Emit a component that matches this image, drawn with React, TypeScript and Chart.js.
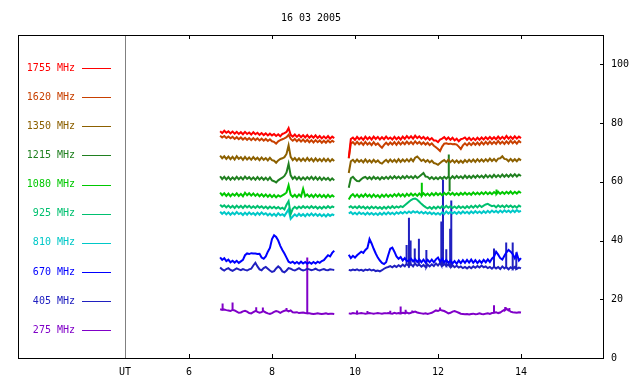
import React, { useEffect, useRef } from "react";
import { Chart, registerables } from "chart.js";
Chart.register(...registerables);

const TITLE = "16 03 2005";
const SEG1_START = 6.75;
const SEG2_START = 9.85;
const STEP = 0.05;
const UT_HOUR = 4.46;
const X_TICKS = [UT_HOUR, 6, 8, 10, 12, 14];
const Y_TICKS = [0, 20, 40, 60, 80, 100];
const FREQS = ["1755 MHz", "1620 MHz", "1350 MHz", "1215 MHz", "1080 MHz", "925 MHz", "810 MHz", "670 MHz", "405 MHz", "275 MHz"];
const COLORS = ["#ff0000", "#c84000", "#8c6000", "#208020", "#00c800", "#00c070", "#00c8c8", "#0000ff", "#2020c0", "#8000c8"];
const FONT = "'DejaVu Sans Mono', monospace";

// 1755 MHz
const r1755a = [
  77.2, 76.6, 77.4, 76.7, 77.2, 76.5, 77.1, 76.4, 77.0, 76.3,
  76.9, 76.2, 77.0, 76.3, 76.8, 76.1, 76.9, 76.2, 76.7, 76.0,
  76.6, 75.9, 76.5, 75.8, 76.4, 75.8, 76.3, 75.6, 76.2, 75.5,
  76.3, 76.6, 77.0, 78.3, 76.0, 75.4, 76.1, 75.3, 76.0, 75.2,
  75.9, 75.1, 75.9, 75.0, 75.7, 75.0, 75.8, 74.9, 75.6, 74.8,
  75.5, 74.8, 75.6, 74.7, 75.4, 74.9];
const r1755b = [
  68.2, 74.6, 75.1, 74.3, 75.3, 74.5, 75.1, 74.3, 75.4, 74.5,
  75.2, 74.4, 75.4, 74.6, 75.3, 74.4, 75.2, 74.5, 75.4, 74.6,
  75.1, 74.4, 75.3, 74.5, 75.2, 74.4, 75.4, 74.6, 75.6, 74.8,
  75.5, 74.7, 75.7, 74.9, 75.5, 74.7, 75.3, 74.5, 75.1, 74.3,
  74.9, 74.1, 74.1, 73.5, 74.4, 74.7, 75.2, 74.4, 75.1, 74.3,
  75.0, 74.1, 74.7, 73.8, 74.5, 74.7, 75.1, 74.3, 75.0, 74.2,
  74.9, 74.2, 75.0, 74.3, 75.1, 74.4, 75.2, 74.5, 75.3, 74.5,
  75.2, 74.5, 75.4, 74.6, 75.3, 74.6, 75.6, 74.7, 75.4, 74.6,
  75.5, 74.7, 75.4, 74.9];
const r1755spikes: number[][] = [];

// 1620 MHz
const r1620a = [
  75.7, 75.1, 75.6, 74.9, 75.4, 74.8, 75.3, 74.6, 75.2, 74.5,
  75.1, 74.4, 75.0, 74.3, 74.9, 74.2, 74.9, 74.2, 74.8, 74.1,
  74.7, 74.0, 74.6, 73.9, 74.5, 73.8, 73.6, 73.0, 73.8, 74.2,
  74.5, 74.8, 75.2, 76.0, 74.6, 74.0, 74.6, 73.8, 74.5, 73.7,
  74.4, 73.6, 74.3, 73.5, 74.2, 73.4, 74.2, 73.5, 74.1, 73.3,
  74.0, 73.3, 74.1, 73.4, 74.0, 73.5];
const r1620b = [
  68.0, 73.0, 73.5, 72.7, 73.6, 72.8, 73.4, 72.6, 73.6, 72.7,
  73.3, 72.5, 73.5, 72.6, 73.1, 72.3, 71.6, 72.6, 73.3, 72.6,
  73.4, 72.7, 73.5, 72.6, 73.6, 72.7, 73.5, 72.8, 73.7, 72.9,
  73.6, 72.8, 73.8, 73.0, 73.6, 72.8, 73.4, 72.7, 73.3, 72.5,
  73.1, 72.3, 71.8, 71.2, 70.5, 72.0, 73.0, 73.1, 72.9, 73.0,
  72.8, 72.9, 72.7, 72.0, 71.2, 72.4, 73.1, 72.4, 73.2, 72.5,
  73.3, 72.6, 73.4, 72.6, 73.5, 72.7, 73.6, 72.8, 73.7, 72.9,
  73.6, 72.9, 73.9, 73.0, 73.7, 72.9, 73.8, 73.0, 74.0, 73.1,
  73.8, 73.0, 73.9, 73.3];
const r1620spikes: number[][] = [];

// 1350 MHz
const r1350a = [
  68.9, 68.0, 68.7, 67.8, 68.6, 67.7, 68.5, 67.6, 68.7, 67.8,
  68.4, 67.5, 68.5, 67.6, 68.3, 67.5, 68.4, 67.6, 68.2, 67.4,
  68.3, 67.5, 68.1, 67.3, 68.2, 67.4, 67.2, 66.5, 67.3, 67.8,
  68.0, 68.4, 69.5, 72.4, 68.5, 67.4, 68.1, 67.2, 68.0, 67.1,
  67.9, 67.1, 68.1, 67.2, 67.9, 67.0, 68.0, 67.1, 67.8, 67.0,
  67.9, 67.0, 67.8, 66.9, 67.7, 67.1];
const r1350b = [
  63.0, 67.0, 67.5, 66.7, 67.6, 66.8, 67.4, 66.6, 67.6, 66.7,
  67.4, 66.6, 67.5, 66.7, 67.3, 66.5, 66.2, 66.9, 67.5, 66.7,
  67.6, 66.8, 67.5, 66.7, 67.7, 66.8, 67.6, 66.9, 67.7, 66.9,
  67.8, 67.0, 68.2, 68.6, 67.9, 67.1, 67.6, 66.8, 67.4, 66.6,
  67.2, 66.4, 66.2, 65.8, 66.4, 67.0, 67.4, 66.7, 67.5, 66.7,
  67.4, 66.6, 67.3, 66.5, 67.2, 66.5, 67.4, 66.7, 67.5, 66.8,
  67.6, 66.8, 67.7, 66.9, 67.6, 66.9, 67.7, 67.0, 67.9, 67.1,
  67.8, 67.0, 67.9, 68.0, 68.7, 67.8, 67.7, 67.0, 67.8, 67.0,
  67.7, 67.0, 67.8, 67.3];
const r1350spikes: number[][] = [];

// 1215 MHz
const r1215a = [
  61.9, 60.9, 61.7, 60.8, 61.6, 60.7, 61.5, 60.8, 61.7, 60.9,
  61.6, 60.8, 61.8, 61.0, 61.6, 60.8, 61.5, 60.7, 61.6, 60.8,
  61.5, 60.7, 61.4, 60.6, 61.5, 60.5, 60.2, 59.8, 60.5, 61.0,
  61.4, 62.0, 63.2, 66.1, 62.2, 61.0, 61.7, 60.8, 61.6, 60.7,
  61.5, 60.8, 61.6, 60.9, 61.7, 60.8, 61.6, 60.7, 61.5, 60.6,
  61.4, 60.7, 61.3, 60.5, 61.2, 60.5];
const r1215b = [
  58.0, 61.2, 61.7, 60.9, 60.3, 60.2, 60.9, 61.4, 61.7, 61.0,
  61.6, 60.9, 61.7, 61.0, 61.5, 60.8, 61.6, 61.0, 61.7, 61.0,
  61.8, 61.1, 61.9, 61.2, 61.8, 61.1, 61.9, 61.2, 62.0, 61.3,
  61.9, 61.2, 62.0, 61.3, 61.8, 62.4, 63.0, 61.8, 61.7, 61.0,
  61.6, 60.9, 61.5, 60.9, 61.6, 61.0, 61.7, 61.1, 61.8, 61.1,
  61.9, 61.2, 62.0, 61.3, 61.9, 61.2, 62.1, 61.3, 62.0, 61.3,
  62.1, 61.4, 62.2, 61.5, 62.1, 61.4, 62.3, 61.5, 62.2, 61.5,
  62.4, 61.6, 62.3, 61.6, 62.5, 61.7, 62.4, 61.7, 62.5, 61.8,
  62.6, 61.8, 62.5, 62.0];
const r1215spikes = [[12.26, 69.3], [12.28, 56.8]];

// 1080 MHz
const r1080a = [
  56.3, 55.4, 56.1, 55.2, 56.0, 55.1, 55.9, 55.3, 56.1, 55.2,
  55.9, 55.1, 56.3, 55.4, 56.1, 55.3, 56.0, 55.2, 55.9, 55.1,
  55.8, 55.0, 55.7, 54.9, 55.6, 54.8, 55.5, 54.7, 55.4, 55.0,
  55.4, 55.8, 56.4, 58.8, 55.6, 54.9, 55.6, 54.8, 55.7, 55.0,
  57.6, 55.1, 55.7, 54.9, 55.6, 54.8, 55.7, 54.9, 55.6, 54.8,
  55.5, 54.7, 55.6, 54.8, 55.4, 54.8];
const r1080b = [
  54.0, 55.2, 55.8, 54.9, 55.7, 54.8, 55.6, 54.9, 55.8, 55.0,
  55.6, 54.8, 55.7, 54.9, 55.5, 54.7, 55.6, 54.9, 55.7, 54.9,
  55.6, 55.0, 55.8, 55.1, 55.9, 55.1, 55.8, 55.0, 55.9, 55.2,
  56.0, 55.3, 55.9, 55.2, 56.0, 55.3, 56.1, 55.4, 56.0, 55.3,
  56.1, 55.4, 56.2, 55.5, 56.1, 55.4, 56.2, 55.6, 56.3, 55.6,
  56.2, 55.5, 56.1, 55.5, 56.2, 55.6, 56.3, 55.6, 56.2, 55.6,
  56.4, 55.7, 56.3, 55.7, 56.4, 55.8, 56.5, 55.8, 56.4, 55.8,
  56.5, 55.9, 56.6, 55.9, 56.5, 55.9, 56.6, 56.0, 56.7, 55.9,
  56.6, 56.0, 56.7, 56.2];
const r1080spikes = [[11.61, 59.7], [13.41, 57.4]];

// 925 MHz
const r925a = [
  52.2, 51.5, 52.0, 51.3, 51.9, 51.2, 51.8, 51.1, 51.9, 51.2,
  51.8, 51.1, 51.9, 51.3, 51.8, 51.1, 51.7, 51.1, 51.8, 51.2,
  51.7, 51.0, 51.6, 50.9, 51.6, 51.0, 51.5, 50.9, 51.4, 50.8,
  51.2, 50.6, 52.2, 53.4, 49.0, 50.8, 51.5, 50.9, 51.6, 51.0,
  51.7, 51.1, 51.6, 51.0, 51.7, 51.1, 51.6, 50.9, 51.5, 50.9,
  51.6, 51.0, 51.7, 51.1, 51.6, 51.3];
const r925b = [
  51.2, 51.7, 51.1, 51.6, 51.0, 51.7, 51.1, 51.6, 50.9, 51.5,
  50.9, 51.6, 51.0, 51.5, 50.9, 51.4, 50.8, 51.5, 50.9, 51.6,
  51.0, 51.7, 51.1, 51.6, 51.2, 51.7, 51.4, 52.0, 52.6, 53.2,
  53.8, 54.2, 54.3, 53.9, 53.2, 52.5, 51.9, 51.4, 51.0, 51.4,
  50.8, 51.5, 50.9, 51.6, 51.0, 51.7, 51.1, 51.8, 51.2, 51.7,
  51.1, 51.6, 51.0, 51.7, 51.1, 51.6, 51.0, 51.7, 51.1, 51.8,
  51.2, 51.9, 51.3, 52.0, 51.4, 51.9, 52.3, 52.5, 52.1, 51.7,
  51.9, 51.3, 52.0, 51.4, 51.9, 51.3, 52.0, 51.4, 51.9, 51.3,
  51.8, 51.2, 51.9, 51.5];
const r925spikes: number[][] = [];

// 810 MHz
const r810a = [
  49.8, 49.1, 49.7, 48.9, 49.6, 48.8, 49.5, 48.9, 49.7, 49.0,
  49.4, 48.7, 49.5, 48.8, 49.6, 48.9, 49.4, 48.7, 49.5, 48.8,
  49.6, 48.9, 49.3, 48.6, 49.2, 48.5, 49.1, 48.4, 49.3, 48.6,
  49.0, 48.4, 49.5, 50.6, 47.4, 48.2, 48.9, 48.3, 49.1, 48.4,
  49.0, 48.3, 49.1, 48.5, 49.2, 48.5, 49.1, 48.4, 49.0, 48.3,
  48.9, 48.2, 49.0, 48.4, 48.9, 48.6];
const r810b = [
  49.2, 49.7, 49.0, 49.5, 48.9, 49.6, 49.0, 49.4, 48.8, 49.5,
  48.9, 49.4, 48.8, 49.3, 48.7, 49.4, 48.8, 49.5, 48.9, 49.6,
  49.0, 49.5, 48.9, 49.6, 49.1, 49.7, 49.2, 49.8, 49.3, 49.9,
  49.4, 50.0, 49.5, 49.9, 49.3, 49.8, 49.2, 49.7, 49.1, 49.6,
  49.0, 49.5, 48.9, 49.4, 48.8, 49.6, 49.0, 49.9, 49.2, 49.8,
  49.2, 49.7, 49.1, 49.8, 49.2, 49.9, 49.3, 49.8, 49.2, 49.9,
  49.3, 50.0, 49.4, 49.9, 49.3, 50.0, 49.4, 50.1, 49.5, 50.2,
  49.6, 50.1, 49.5, 50.2, 49.6, 50.3, 49.7, 50.2, 49.6, 50.3,
  49.7, 50.4, 49.8, 50.1];
const r810spikes: number[][] = [];

// 670 MHz
const r670a = [
  34.3, 33.4, 34.0, 33.0, 33.5, 32.6, 33.1, 32.5, 33.1, 32.4,
  32.9, 33.4, 35.0, 35.6, 35.4, 35.7, 35.6, 35.6, 35.4, 35.5,
  34.2, 33.8, 34.6, 36.2, 37.5, 40.5, 41.8, 41.2, 40.0, 38.2,
  36.8, 35.6, 34.2, 32.8, 32.4, 32.8, 32.2, 32.7, 32.1, 32.8,
  32.2, 32.7, 32.1, 32.6, 32.1, 32.7, 32.2, 32.8, 32.4, 33.0,
  33.3, 34.2, 35.0, 34.6, 35.8, 36.5];
const r670b = [
  35.2, 34.0, 34.8, 34.2, 35.0, 35.6, 36.2, 35.8, 36.8, 37.5,
  40.5, 39.0, 37.2, 35.6, 34.2, 33.2, 32.4, 32.0, 32.6, 35.0,
  37.2, 37.6, 36.2, 34.6, 33.8, 34.4, 33.2, 34.0, 33.0, 33.2,
  33.8, 32.9, 33.7, 32.7, 33.6, 32.6, 33.5, 32.5, 33.4, 32.6,
  33.5, 32.6, 33.6, 34.2, 32.8, 33.8, 32.6, 33.4, 32.4, 33.2,
  32.2, 33.0, 32.1, 33.2, 32.3, 33.3, 32.4, 33.4, 32.5, 33.5,
  32.4, 33.3, 32.3, 33.2, 32.4, 33.4, 32.6, 33.6, 32.7, 33.8,
  34.5, 36.2, 35.2, 34.0, 33.5, 34.8, 36.0, 36.8, 36.2, 35.4,
  34.0, 35.5, 33.2, 34.0];
const r670spikes: number[][] = [];

// 405 MHz
const r405a = [
  30.8, 30.2, 29.8, 30.3, 30.6, 30.0, 29.7, 30.1, 30.5, 30.2,
  29.9, 30.3, 30.0, 29.8, 30.2, 30.4, 31.5, 32.4, 31.2, 30.2,
  29.9, 30.6, 31.0, 30.4, 29.8, 29.3, 29.6, 30.5, 31.2, 30.6,
  29.5, 29.2, 29.8, 30.6, 30.4, 30.0, 29.8, 30.2, 30.6, 30.1,
  29.8, 30.0, 30.4, 30.2, 29.9, 30.1, 30.4, 30.0, 29.8, 30.1,
  30.3, 30.0, 29.9, 30.2, 30.1, 30.0];
const r405b = [
  30.0, 29.8, 30.1, 29.9, 30.2, 29.8, 30.0, 29.7, 30.1, 29.9,
  30.2, 29.8, 30.0, 29.6, 29.8, 29.5, 29.9, 30.4, 30.8, 31.0,
  31.3, 30.9, 31.4, 31.0, 31.6, 31.1, 31.8, 31.2, 32.0, 31.3,
  31.9, 31.2, 32.1, 31.4, 31.8, 31.1, 31.7, 31.0, 31.8, 31.2,
  31.9, 31.3, 32.2, 31.5, 32.4, 31.6, 32.0, 31.4, 31.8, 31.1,
  31.6, 30.9, 31.4, 30.8, 31.2, 30.6, 31.0, 30.5, 31.1, 30.6,
  31.2, 30.7, 31.3, 30.8, 31.5, 30.9, 31.2, 30.6, 31.0, 30.4,
  31.1, 30.5, 31.0, 30.3, 31.2, 30.5, 31.0, 30.2, 30.9, 30.4,
  31.0, 30.3, 30.8, 30.5];
const r405spikes = [
  [11.24, 38.5], [11.30, 47.8], [11.34, 40.0], [11.44, 37.3], [11.54, 40.6], [11.72, 36.8],
  [12.08, 46.5], [12.12, 60.8], [12.20, 37.0], [12.29, 44.0], [12.32, 53.6],
  [13.35, 37.3], [13.64, 39.3], [13.80, 39.3], [13.88, 36.0]];

// 275 MHz
const r275a = [
  16.6, 16.4, 16.5, 16.3, 16.2, 16.0, 16.4, 16.2, 15.8, 15.4,
  15.5, 15.9, 16.1, 15.8, 15.3, 15.2, 15.6, 16.0, 15.7, 15.4,
  15.6, 15.9, 15.5, 15.2, 15.0, 15.3, 15.7, 16.0, 15.8, 15.4,
  15.8, 16.1, 16.3, 15.9, 16.2, 15.6, 15.5, 15.6, 15.3, 15.4,
  15.5, 15.3, 15.2, 15.2, 15.1, 15.0, 15.1, 15.2, 15.1, 15.0,
  15.1, 15.2, 15.0, 15.1, 15.1, 15.0];
const r275b = [
  15.2, 15.1, 15.3, 15.2, 15.1, 15.2, 15.3, 15.2, 15.1, 15.2,
  15.3, 15.2, 15.1, 15.2, 15.3, 15.2, 15.1, 15.2, 15.2, 15.3,
  15.2, 15.1, 15.4, 15.2, 15.3, 15.2, 15.4, 15.3, 15.5, 15.2,
  15.4, 15.6, 15.8, 15.5, 15.3, 15.2, 15.1, 15.2, 15.0, 15.2,
  15.4, 15.8, 16.2, 16.0, 16.4, 16.2, 16.0, 15.6, 15.2, 15.4,
  15.8, 16.0, 15.7, 15.4, 15.1, 15.0, 14.9, 15.0, 14.8, 15.0,
  15.1, 14.9, 15.0, 15.2, 15.0, 14.9, 15.1, 15.2, 15.0, 15.3,
  15.4, 15.6, 15.3, 15.5, 16.0, 16.4, 16.8, 16.2, 15.8, 15.6,
  15.5, 15.4, 15.6, 15.5];
const r275spikes = [
  [6.81, 18.6], [7.05, 18.9], [7.62, 17.3], [7.78, 17.2], [8.35, 17.0], [8.85, 34.2],
  [10.05, 16.2], [10.30, 16.0], [10.85, 16.1], [11.10, 17.5], [11.22, 16.4], [11.38, 16.2],
  [12.05, 17.2], [13.35, 18.0], [13.62, 17.4], [13.72, 17.0]];

const SERIES = [
  [r1755a, r1755b, r1755spikes],
  [r1620a, r1620b, r1620spikes],
  [r1350a, r1350b, r1350spikes],
  [r1215a, r1215b, r1215spikes],
  [r1080a, r1080b, r1080spikes],
  [r925a, r925b, r925spikes],
  [r810a, r810b, r810spikes],
  [r670a, r670b, r670spikes],
  [r405a, r405b, r405spikes],
  [r275a, r275b, r275spikes],
] as number[][][];

type Pt = { x: number; y: number | null };

function segment(vals: number[], start: number, spikes: number[][]): Pt[] {
  const pts: Pt[] = vals.map((v, i) => ({ x: start + i * STEP, y: v }));
  const end = start + (vals.length - 1) * STEP;
  const extra: Pt[] = [];
  spikes.forEach(([t, v]) => {
    if (t < start || t > end) return;
    const j = Math.round((t - start) / STEP);
    const base = vals[Math.min(vals.length - 1, Math.max(0, j))];
    extra.push({ x: t, y: base }, { x: t, y: v }, { x: t, y: base });
  });
  const all = pts.concat(extra);
  return all.sort((a, b) => a.x - b.x);
}

function buildSeries(a: number[], b: number[], spikes: number[][]): Pt[] {
  const s1 = segment(a, SEG1_START, spikes);
  const s2 = segment(b, SEG2_START, spikes);
  const gapX = (SEG1_START + (a.length - 1) * STEP + SEG2_START) / 2;
  return [...s1, { x: gapX, y: null }, ...s2];
}

const framePlugin = {
  id: "framePlugin",
  afterDraw(chart: any) {
    const { ctx, chartArea: a, scales } = chart;
    const xs = scales.x;
    const ys = scales.y;
    ctx.save();
    const ux = Math.round(xs.getPixelForValue(UT_HOUR)) + 0.5;
    ctx.strokeStyle = "#808080";
    ctx.lineWidth = 1;
    ctx.beginPath();
    ctx.moveTo(ux, a.top);
    ctx.lineTo(ux, a.bottom);
    ctx.stroke();
    ctx.strokeStyle = "#000";
    ctx.lineWidth = 1;
    ctx.strokeRect(a.left + 0.5, a.top + 0.5, a.right - a.left - 1, a.bottom - a.top);
    ctx.beginPath();
    X_TICKS.forEach((v) => {
      if (v === UT_HOUR) return;
      const px = Math.round(xs.getPixelForValue(v)) + 0.5;
      ctx.moveTo(px, a.bottom);
      ctx.lineTo(px, a.bottom - 4);
      ctx.moveTo(px, a.top);
      ctx.lineTo(px, a.top + 4);
    });
    Y_TICKS.forEach((v) => {
      if (v === 0) return;
      const py = Math.round(ys.getPixelForValue(v)) + 0.5;
      ctx.moveTo(a.right, py);
      ctx.lineTo(a.right - 4, py);
    });
    ctx.stroke();
    ctx.fillStyle = "#000";
    ctx.font = `10px ${FONT}`;
    ctx.textAlign = "center";
    ctx.textBaseline = "middle";
    ctx.fillText(TITLE, (a.left + a.right) / 2, 18);
    FREQS.forEach((f, i) => {
      const y = 68 + i * 29.15;
      ctx.fillStyle = COLORS[i];
      ctx.textAlign = "right";
      ctx.fillText(f, 75, y);
      ctx.strokeStyle = COLORS[i];
      ctx.beginPath();
      ctx.moveTo(82, Math.round(y) + 0.5);
      ctx.lineTo(111, Math.round(y) + 0.5);
      ctx.stroke();
    });
    ctx.restore();
  },
};

export default function App() {
  const ref = useRef<HTMLCanvasElement | null>(null);
  useEffect(() => {
    if (!ref.current) return;
    const datasets = SERIES.map(([a, b, sp], i) => ({
      label: FREQS[i],
      data: buildSeries(a, b, sp),
      borderColor: COLORS[i],
      backgroundColor: COLORS[i],
      borderWidth: 2,
      pointRadius: 0,
      tension: 0,
      spanGaps: false,
      fill: false,
    }));
    const chart = new Chart(ref.current, {
      type: "line",
      data: { datasets },
      plugins: [framePlugin],
      options: {
        responsive: false,
        animation: false,
        layout: { padding: { left: 18, top: 35, right: 0, bottom: 0 } },
        plugins: {
          legend: { display: false },
          tooltip: { enabled: false },
          title: { display: false },
        },
        scales: {
          x: {
            type: "linear",
            min: 1.88,
            max: 16.0,
            grid: { display: false, drawTicks: false },
            border: { display: false },
            ticks: {
              font: { family: FONT, size: 10 },
              color: "#000",
              padding: 8,
              autoSkip: false,
              maxRotation: 0,
              callback: (v: any) => (Number(v) < 5 ? "UT" : String(v)),
            },
            afterBuildTicks: (s: any) => {
              s.ticks = X_TICKS.map((v) => ({ value: v }));
            },
            afterFit: (s: any) => {
              s.height = 26;
            },
          },
          y: {
            position: "right",
            min: 0,
            max: 110,
            grid: { display: false, drawTicks: false },
            border: { display: false },
            ticks: {
              font: { family: FONT, size: 10 },
              color: "#000",
              padding: 7,
            },
            afterBuildTicks: (s: any) => {
              s.ticks = Y_TICKS.map((v) => ({ value: v }));
            },
            afterFit: (s: any) => {
              s.width = 36;
            },
          },
        },
      } as any,
    });
    return () => chart.destroy();
  }, []);
  return (
    <div style={{ position: "fixed", left: 0, top: 0, width: 640, height: 384, background: "#fff" }}>
      <canvas ref={ref} width={640} height={384} />
    </div>
  );
}
